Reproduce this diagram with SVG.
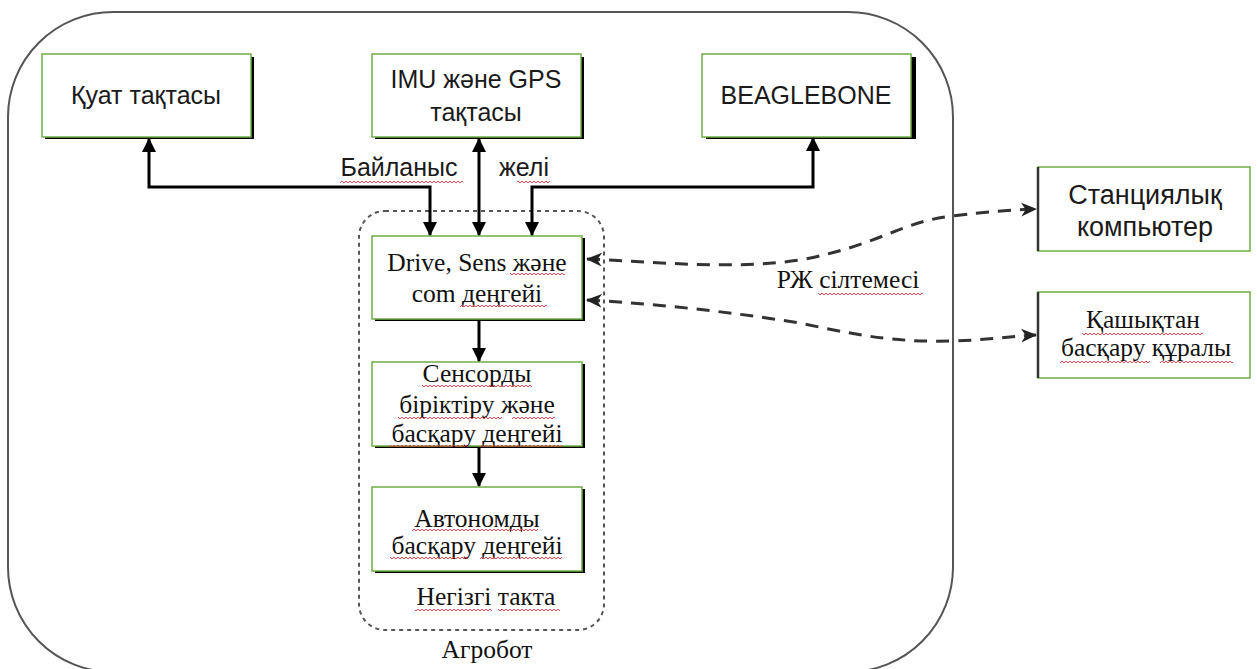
<svg xmlns="http://www.w3.org/2000/svg" width="1257" height="669" viewBox="0 0 1257 669">
<defs>
<style>
.box{fill:#fff;stroke:#70ad47;stroke-width:1.5}
.shadow{fill:#000}
.sans{font-family:"Liberation Sans","Noto Sans",sans-serif;font-size:25px;fill:#1a1a1a;text-anchor:middle}
.big{font-size:27px}
.serif{font-family:"Liberation Serif","DejaVu Serif",serif;font-size:25.5px;fill:#111;text-anchor:middle}
.conn{fill:none;stroke:#000;stroke-width:3}
.dash{fill:none;stroke:#333;stroke-width:3;stroke-dasharray:13 9}
.sq{fill:url(#squig)}
</style>
<marker id="ah" viewBox="0 0 14 14" refX="13" refY="7" markerWidth="14" markerHeight="14" markerUnits="userSpaceOnUse" orient="auto-start-reverse">
<path d="M0,0 L14,7 L0,14 z" fill="#000"/>
</marker>
<marker id="oh" viewBox="0 0 14 14" refX="13" refY="7" markerWidth="16" markerHeight="16" markerUnits="userSpaceOnUse" orient="auto-start-reverse">
<path d="M0,1 L14,7 L0,13 L4,7 z" fill="#222"/>
</marker>
<pattern id="squig" x="0" y="0" width="4" height="4" patternUnits="userSpaceOnUse">
<path d="M0,3 L2,1 L4,3" fill="none" stroke="#e0383e" stroke-width="0.9"/>
</pattern>
</defs>

<g id="agrobot">
<rect x="8" y="12" width="945" height="660" rx="105" fill="none" stroke="#555" stroke-width="2"/>
<text class="serif" x="487" y="658">Агробот</text>
</g>

<g id="main-board">
<rect x="359" y="211" width="245" height="419" rx="26" fill="none" stroke="#555" stroke-width="2" stroke-dasharray="4 4"/>
<text class="serif" x="486" y="605">Негізгі такта</text>
<rect class="sq" x="415" y="608" width="77" height="4"/>
<rect class="sq" x="498" y="608" width="62" height="4"/>
</g>

<g id="power">
<rect class="shadow" x="45" y="57" width="209" height="82"/>
<rect class="box" x="42" y="54" width="209" height="83"/>
<text class="sans" x="146" y="104">Қуат тақтасы</text>
</g>

<g id="imu-gps">
<rect class="shadow" x="375" y="57" width="209" height="82"/>
<rect class="box" x="372" y="54" width="209" height="83"/>
<text class="sans" x="476" y="88">IMU және GPS</text>
<text class="sans" x="476" y="121">тақтасы</text>
</g>

<g id="beaglebone">
<rect class="shadow" x="706" y="57" width="210" height="82"/>
<rect class="box" x="702" y="54" width="209" height="83"/>
<text class="sans" x="806" y="104">BEAGLEBONE</text>
</g>

<g id="drive">
<rect class="shadow" x="375" y="238" width="210" height="83"/>
<rect class="box" x="372" y="236" width="210" height="83"/>
<text class="serif" x="477" y="271">Drive, Sens және</text>
<text class="serif" x="477" y="302">com деңгейі</text>
<rect class="sq" x="510" y="273" width="55" height="4"/>
<rect class="sq" x="460" y="305" width="87" height="4"/>
</g>

<g id="fusion">
<rect class="shadow" x="375" y="364" width="210" height="84"/>
<rect class="box" x="372" y="362" width="210" height="84"/>
<text class="serif" x="477" y="382">Сенсорды</text>
<text class="serif" x="477" y="413">біріктіру және</text>
<text class="serif" x="477" y="442">басқару деңгейі</text>
<rect class="sq" x="422" y="384" width="110" height="4"/>
<rect class="sq" x="398" y="416" width="104" height="4"/>
<rect class="sq" x="512" y="416" width="43" height="4"/>
<rect class="sq" x="390" y="444" width="78" height="4"/>
<rect class="sq" x="480" y="444" width="82" height="4"/>
</g>

<g id="autonomy">
<rect class="shadow" x="375" y="489" width="210" height="84"/>
<rect class="box" x="372" y="487" width="210" height="84"/>
<text class="serif" x="477" y="527">Автономды</text>
<text class="serif" x="477" y="554">басқару деңгейі</text>
<rect class="sq" x="412" y="529" width="126" height="4"/>
<rect class="sq" x="390" y="557" width="78" height="4"/>
<rect class="sq" x="480" y="557" width="82" height="4"/>
</g>

<g id="station">
<rect class="box" x="1038" y="167" width="212" height="84"/>
<line x1="1038" y1="167" x2="1038" y2="251" stroke="#333" stroke-width="2.5"/>
<text class="sans big" x="1145" y="204">Станциялық</text>
<text class="sans big" x="1145" y="236">компьютер</text>
</g>

<g id="remote">
<rect class="box" x="1038" y="292" width="212" height="86"/>
<line x1="1038" y1="292" x2="1038" y2="378" stroke="#333" stroke-width="2.5"/>
<text class="serif" x="1143" y="328">Қашықтан</text>
<text class="serif" x="1146" y="356">басқару құралы</text>
<rect class="sq" x="1082" y="332" width="121" height="4"/>
<rect class="sq" x="1060" y="360" width="90" height="4"/>
<rect class="sq" x="1160" y="360" width="73" height="4"/>
</g>

<g id="connectors">
<path class="conn" d="M149,139 L149,187 L430,187 L430,235" marker-start="url(#ah)" marker-end="url(#ah)"/>
<path class="conn" d="M813,138 L813,187 L532,187 L532,235" marker-start="url(#ah)" marker-end="url(#ah)"/>
<path class="conn" d="M479,139 L479,235" marker-start="url(#ah)" marker-end="url(#ah)"/>
<path class="conn" d="M479,320 L479,361" marker-end="url(#ah)"/>
<path class="conn" d="M479,447 L479,486" marker-end="url(#ah)"/>
<path class="dash" d="M587,259 C660,262 730,270 800,260 C880,245 900,222 952,216 C985,212 1010,210 1036,209" marker-start="url(#oh)" marker-end="url(#oh)"/>
<path class="dash" d="M587,300 C660,304 730,312 800,323 C870,338 900,342 952,341 C990,340 1010,336 1036,335" marker-start="url(#oh)" marker-end="url(#oh)"/>
<text class="sans" x="399" y="176">Байланыс</text>
<text class="sans" x="524" y="176">желі</text>
<rect class="sq" x="340" y="180" width="123" height="4"/>
<rect class="sq" x="517" y="180" width="33" height="4"/>
<text class="serif" x="848" y="288">РЖ сілтемесі</text>
<rect class="sq" x="818" y="292" width="105" height="4"/>
</g>
</svg>
